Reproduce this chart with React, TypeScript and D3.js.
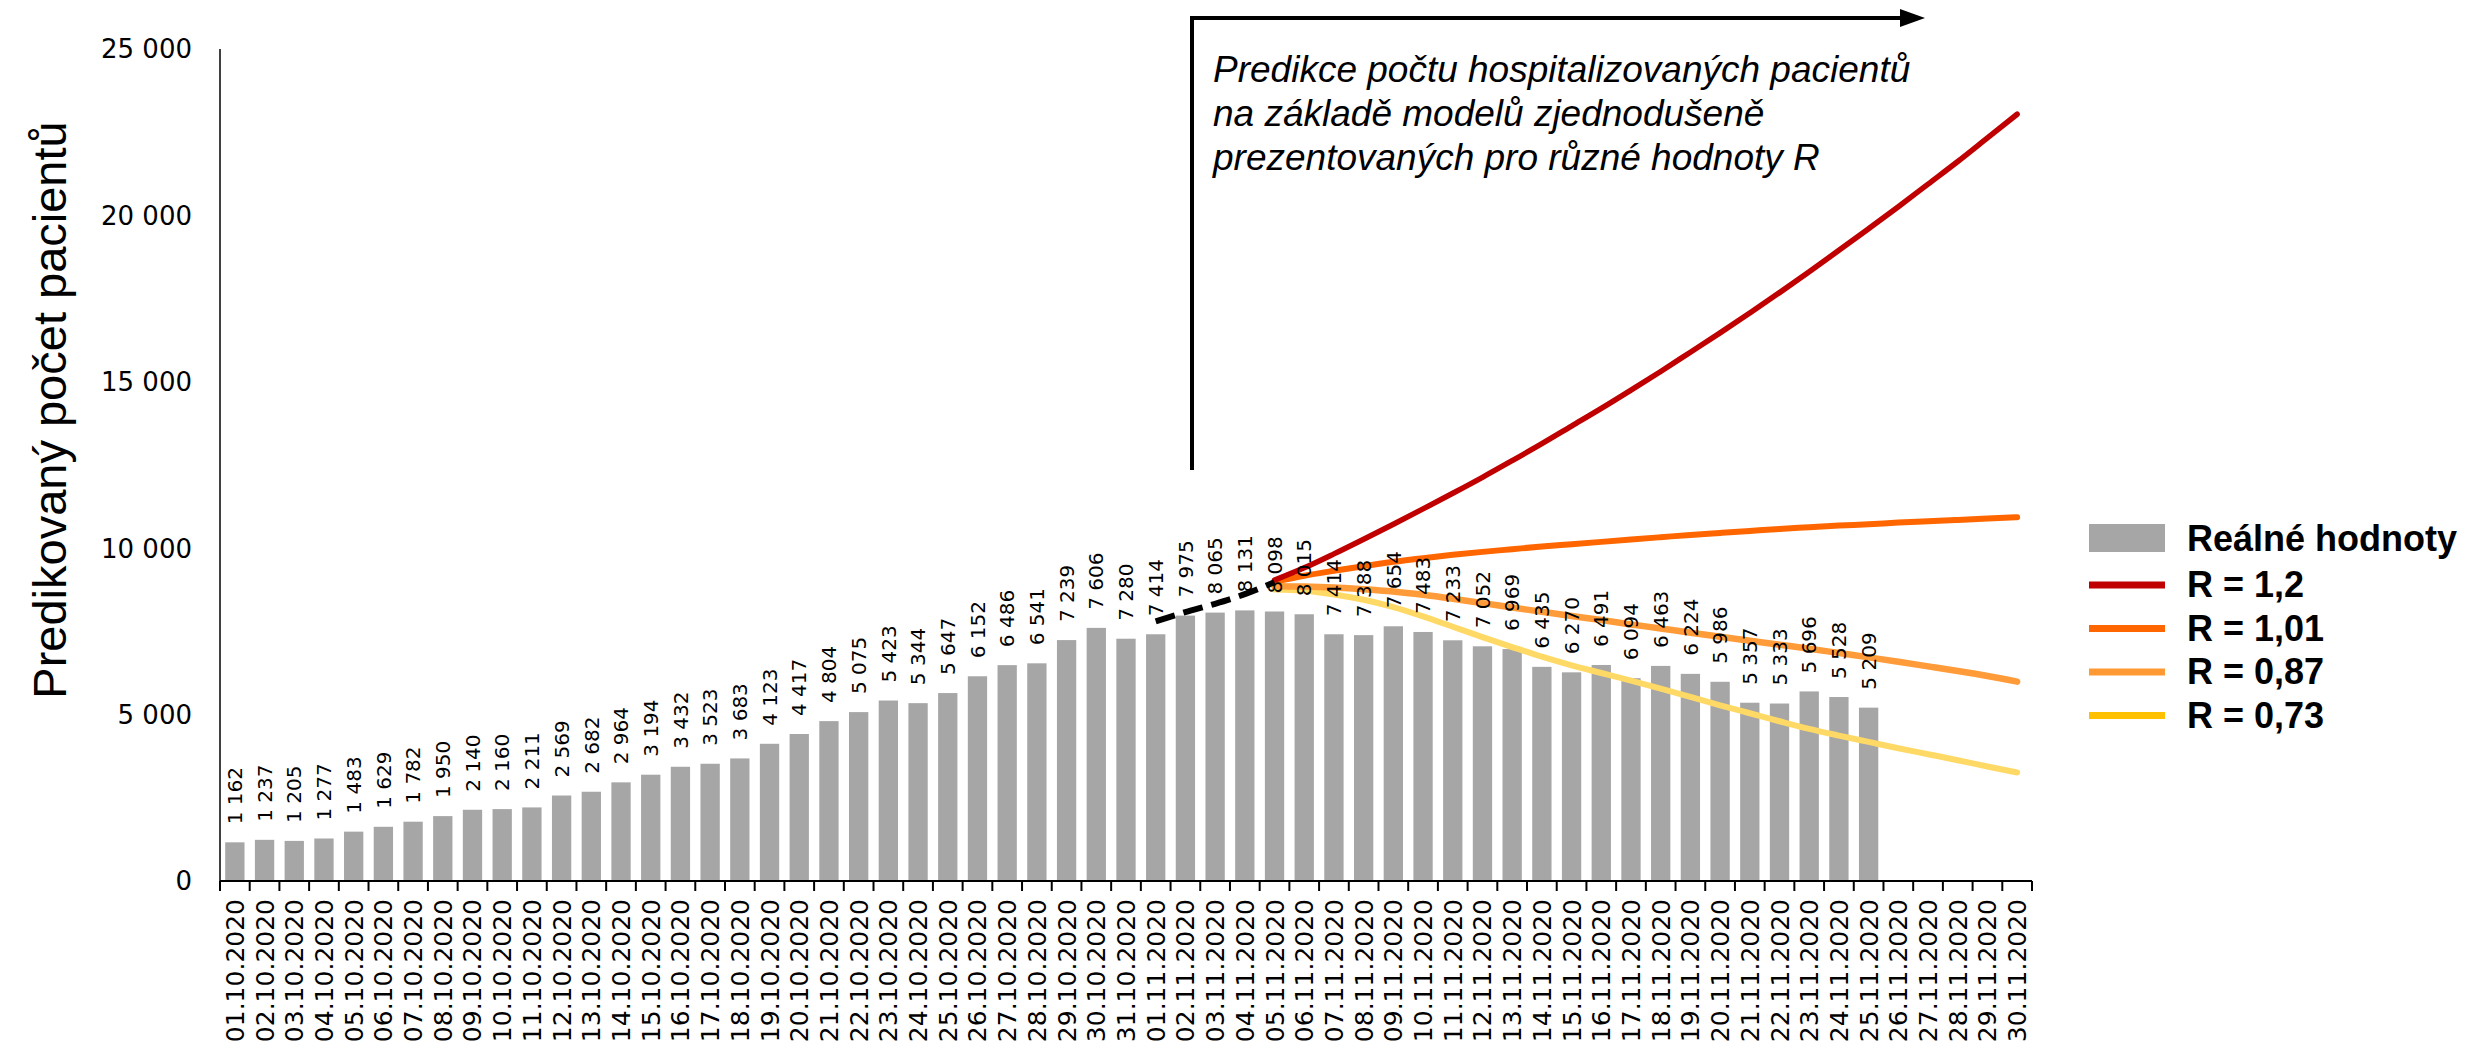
import React, { useRef, useEffect } from "react";
import * as d3 from "d3";

// categories (x axis)
const dates = [
  "01.10.2020", "02.10.2020", "03.10.2020", "04.10.2020", "05.10.2020", "06.10.2020", "07.10.2020",
  "08.10.2020", "09.10.2020", "10.10.2020", "11.10.2020", "12.10.2020", "13.10.2020", "14.10.2020",
  "15.10.2020", "16.10.2020", "17.10.2020", "18.10.2020", "19.10.2020", "20.10.2020", "21.10.2020",
  "22.10.2020", "23.10.2020", "24.10.2020", "25.10.2020", "26.10.2020", "27.10.2020", "28.10.2020",
  "29.10.2020", "30.10.2020", "31.10.2020", "01.11.2020", "02.11.2020", "03.11.2020", "04.11.2020",
  "05.11.2020", "06.11.2020", "07.11.2020", "08.11.2020", "09.11.2020", "10.11.2020", "11.11.2020",
  "12.11.2020", "13.11.2020", "14.11.2020", "15.11.2020", "16.11.2020", "17.11.2020", "18.11.2020",
  "19.11.2020", "20.11.2020", "21.11.2020", "22.11.2020", "23.11.2020", "24.11.2020", "25.11.2020",
  "26.11.2020", "27.11.2020", "28.11.2020", "29.11.2020", "30.11.2020",
];

// real hospitalised patients, 01.10. - 25.11.
const realValues = [
  1162, 1237, 1205, 1277, 1483, 1629, 1782, 1950, 2140, 2160, 2211, 2569, 2682, 2964,
  3194, 3432, 3523, 3683, 4123, 4417, 4804, 5075, 5423, 5344, 5647, 6152, 6486, 6541,
  7239, 7606, 7280, 7414, 7975, 8065, 8131, 8098, 8015, 7414, 7388, 7654, 7483, 7233,
  7052, 6969, 6435, 6270, 6491, 6094, 6463, 6224, 5986, 5357, 5333, 5696, 5528, 5209,
];

// black dashed trend 01.11. - 05.11.
const trendDates = ["01.11.2020", "02.11.2020", "03.11.2020", "04.11.2020", "05.11.2020"];
const trendValues = [7800, 8080, 8330, 8620, 8980];

// model predictions 05.11. - 30.11.
const predStart = "05.11.2020";
const predR12 = [
  9040, 9410, 9830, 10270, 10720, 11180, 11650, 12130, 12630, 13140, 13670, 14200, 14750,
  15310, 15890, 16470, 17070, 17680, 18310, 18950, 19600, 20260, 20940, 21620, 22330, 23040,
];
const predR101 = [
  8990, 9170, 9320, 9460, 9590, 9700, 9800, 9890, 9970, 10050, 10120, 10190, 10260,
  10330, 10400, 10460, 10520, 10580, 10630, 10680, 10720, 10770, 10810, 10850, 10890, 10930,
];
const predR087 = [
  8860, 8850, 8820, 8770, 8700, 8600, 8480, 8350, 8220, 8090, 7960, 7840, 7710,
  7590, 7460, 7340, 7220, 7100, 6980, 6850, 6720, 6590, 6450, 6310, 6160, 5990,
];
const predR073 = [
  8760, 8720, 8610, 8450, 8230, 7950, 7640, 7330, 7030, 6740, 6480, 6250, 6020,
  5780, 5530, 5280, 5040, 4800, 4570, 4370, 4180, 3990, 3810, 3630, 3440, 3260,
];

const seriesNames = ["R = 1,2", "R = 1,01", "R = 0,87", "R = 0,73"];
const lineColors = ["#C00000", "#FF6600", "#FF9B38", "#FFD966"];
const legendColors = ["#C00000", "#FF6600", "#FF9933", "#FFC000"];
const lineWidths = [5.5, 6, 6.5, 6];

const yTicks = [0, 5000, 10000, 15000, 20000, 25000];

const annotationLines = [
  "Predikce počtu hospitalizovaných pacientů",
  "na základě modelů zjednodušeně",
  "prezentovaných pro různé hodnoty R",
];

const W = 2471;
const H = 1046;
const labelFont = "'DejaVu Sans', Verdana, sans-serif";
const textFont = "'Liberation Sans', Arial, sans-serif";

const fmt = (v: number) => d3.format(",")(v).replace(/,/g, " ");

function Chart() {
  const svgRef = useRef<SVGSVGElement>(null);

  useEffect(() => {
    const svg = d3.select(svgRef.current);
    svg.selectAll("*").remove();

    const plot = { left: 220, right: 2032, top: 49, bottom: 881 };

    const x = d3
      .scaleBand<string>()
      .domain(dates)
      .range([plot.left, plot.right])
      .paddingInner(0.35)
      .paddingOuter(0.175);
    const step = x.step();
    const cx = (d: string) => (x(d) as number) + x.bandwidth() / 2;

    const y = d3.scaleLinear().domain([0, 25000]).range([plot.bottom, plot.top]);

    // bars
    svg
      .append("g")
      .selectAll("rect")
      .data(realValues)
      .join("rect")
      .attr("x", (_, i) => x(dates[i]) as number)
      .attr("y", (d) => y(d))
      .attr("width", x.bandwidth())
      .attr("height", (d) => y(0) - y(d))
      .attr("fill", "#A6A6A6");

    // y axis
    svg
      .append("line")
      .attr("x1", plot.left)
      .attr("x2", plot.left)
      .attr("y1", plot.top)
      .attr("y2", plot.bottom)
      .attr("stroke", "#000")
      .attr("stroke-width", 1.5);

    svg
      .append("g")
      .selectAll("text")
      .data(yTicks)
      .join("text")
      .attr("x", plot.left - 28)
      .attr("y", (d) => y(d))
      .attr("dy", "0.36em")
      .attr("text-anchor", "end")
      .attr("font-family", labelFont)
      .attr("font-size", 26)
      .text((d) => fmt(d));

    svg
      .append("text")
      .attr("transform", `translate(66,410) rotate(-90)`)
      .attr("text-anchor", "middle")
      .attr("font-family", textFont)
      .attr("font-size", 47)
      .text("Predikovaný počet pacientů");

    // x axis with ticks between categories
    svg
      .append("line")
      .attr("x1", plot.left)
      .attr("x2", plot.right)
      .attr("y1", plot.bottom)
      .attr("y2", plot.bottom)
      .attr("stroke", "#000")
      .attr("stroke-width", 2);

    svg
      .append("g")
      .selectAll("line")
      .data(d3.range(dates.length + 1))
      .join("line")
      .attr("x1", (i) => plot.left + i * step)
      .attr("x2", (i) => plot.left + i * step)
      .attr("y1", plot.bottom)
      .attr("y2", plot.bottom + 10)
      .attr("stroke", "#000")
      .attr("stroke-width", 2);

    svg
      .append("g")
      .selectAll("text")
      .data(dates)
      .join("text")
      .attr("transform", (d) => `translate(${cx(d)},${plot.bottom + 18}) rotate(-90)`)
      .attr("dy", "0.36em")
      .attr("text-anchor", "end")
      .attr("font-family", labelFont)
      .attr("font-size", 25)
      .text((d) => d);

    // prediction lines
    const predDates = dates.slice(dates.indexOf(predStart));
    const preds = [predR12, predR101, predR087, predR073];
    const line = d3
      .line<number>()
      .x((_, i) => cx(predDates[i]))
      .y((d) => y(d))
      .curve(d3.curveMonotoneX);

    svg
      .append("g")
      .selectAll("path")
      .data(preds.slice().reverse())
      .join("path")
      .attr("d", (d) => line(d))
      .attr("fill", "none")
      .attr("stroke", (_, i) => lineColors[preds.length - 1 - i])
      .attr("stroke-width", (_, i) => lineWidths[preds.length - 1 - i])
      .attr("stroke-linecap", "round");

    // dashed trend
    const trendLine = d3
      .line<number>()
      .x((_, i) => cx(trendDates[i]))
      .y((d) => y(d))
      .curve(d3.curveMonotoneX);
    svg
      .append("path")
      .attr("d", trendLine(trendValues))
      .attr("fill", "none")
      .attr("stroke", "#000")
      .attr("stroke-width", 6)
      .attr("stroke-dasharray", "20 9");

    // value labels
    svg
      .append("g")
      .selectAll("text")
      .data(realValues)
      .join("text")
      .attr("transform", (d, i) => `translate(${cx(dates[i])},${y(d) - 18}) rotate(-90)`)
      .attr("dy", "0.36em")
      .attr("text-anchor", "start")
      .attr("font-family", labelFont)
      .attr("font-size", 20)
      .text((d) => fmt(d));

    // annotation arrow + text
    const ax = 1192;
    svg
      .append("path")
      .attr("d", `M${ax},470 V18 H1904`)
      .attr("fill", "none")
      .attr("stroke", "#000")
      .attr("stroke-width", 4);
    svg
      .append("path")
      .attr("d", "M1900,9 L1925,18 L1900,27 Z")
      .attr("fill", "#000");

    svg
      .append("g")
      .selectAll("text")
      .data(annotationLines)
      .join("text")
      .attr("x", 1213)
      .attr("y", (_, i) => 82 + i * 44)
      .attr("font-family", textFont)
      .attr("font-style", "italic")
      .attr("font-size", 37)
      .text((d) => d);

    // legend
    const lg = svg.append("g").attr("transform", "translate(2089,0)");
    lg.append("rect")
      .attr("x", 0)
      .attr("y", 524)
      .attr("width", 76)
      .attr("height", 28)
      .attr("fill", "#A6A6A6");
    lg.append("text")
      .attr("x", 98)
      .attr("y", 551)
      .attr("font-family", textFont)
      .attr("font-weight", "bold")
      .attr("font-size", 36)
      .text("Reálné hodnoty");

    const items = lg
      .selectAll("g.item")
      .data(seriesNames)
      .join("g")
      .attr("class", "item")
      .attr("transform", (_, i) => `translate(0,${585 + i * 43.5})`);
    items
      .append("line")
      .attr("x1", 0)
      .attr("x2", 76)
      .attr("stroke", (_, i) => legendColors[i])
      .attr("stroke-width", 7);
    items
      .append("text")
      .attr("x", 98)
      .attr("y", 12)
      .attr("font-family", textFont)
      .attr("font-weight", "bold")
      .attr("font-size", 36)
      .text((d) => d);
  }, []);

  return (
    <svg
      ref={svgRef}
      width={W}
      height={H}
      style={{ position: "absolute", left: 0, top: 0, background: "#fff" }}
    ></svg>
  );
}

export default function App() {
  return <Chart />;
}
